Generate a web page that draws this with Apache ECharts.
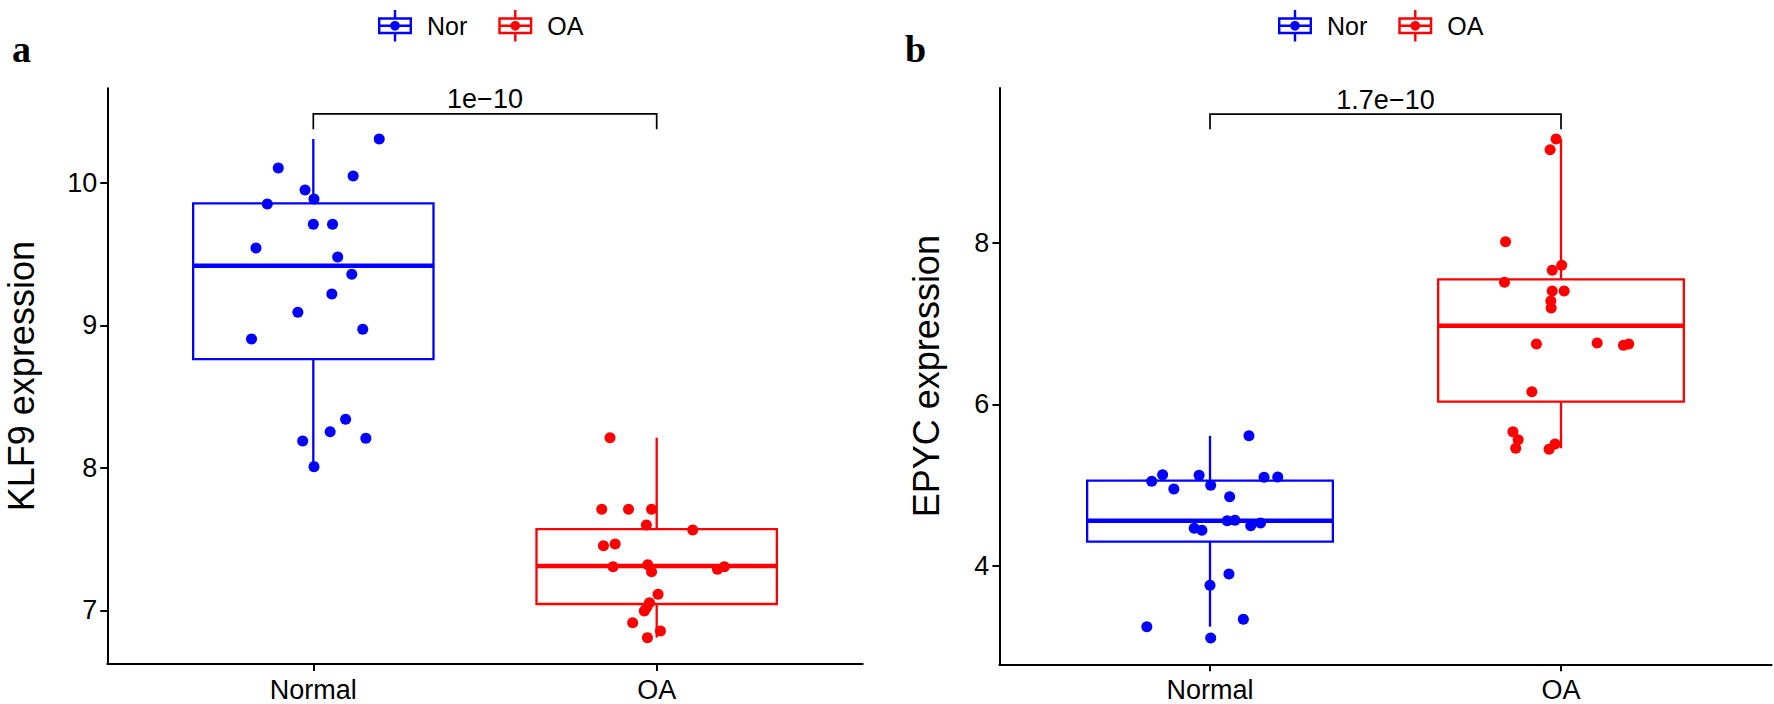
<!DOCTYPE html>
<html>
<head>
<meta charset="utf-8">
<script src="https://cdn.jsdelivr.net/npm/echarts@6/dist/echarts.min.js"></script>
<style>
html,body{margin:0;padding:0;background:#fff;}
#chart{width:1774px;height:704px;}
</style>
</head>
<body>
<div id="chart"></div>
<script>
// ---------------- data ----------------
const categories = ['Normal', 'OA'];
const groupNames = ['Nor', 'OA'];
const panelLetters = ['a', 'b'];
const yTitles = ['KLF9 expression', 'EPYC expression'];
const pLabels = ['1e\u221210', '1.7e\u221210'];
const klf9Ticks = [7, 8, 9, 10];
const epycTicks = [4, 6, 8];
const klf9Range = [6.623, 10.663];
const epycRange = [2.786, 9.91];

const klf9NorY = [10.307,10.104,10.048,9.949,9.886,9.851,9.709,9.709,9.542,9.479,9.358,9.220,9.091,8.972,8.904,8.340,8.253,8.188,8.207,8.008];
const klf9NorJitter = [0.192,-0.102,0.116,-0.024,0.002,-0.134,0,0.056,-0.167,0.071,0.112,0.054,-0.045,0.144,-0.180,0.094,0.049,-0.031,0.153,0.002];
const klf9OAY = [8.211,7.709,7.709,7.709,7.599,7.564,7.453,7.465,7.306,7.320,7.271,7.288,7.306,7.112,7.053,7.021,6.995,6.913,6.855,6.808];
const klf9OAJitter = [-0.136,-0.160,-0.082,-0.015,-0.030,0.105,-0.155,-0.121,-0.127,-0.026,-0.015,0.177,0.197,0.004,-0.021,-0.029,-0.036,-0.070,0.011,-0.027];
const epycNorY = [5.610,5.130,5.048,5.122,4.999,4.953,5.097,5.101,4.858,4.561,4.566,4.499,4.533,4.467,4.442,3.902,3.763,3.251,3.342,3.111];
const epycNorJitter = [0.111,-0.135,-0.166,-0.031,0.002,-0.103,0.154,0.193,0.056,0.049,0.071,0.116,0.144,-0.045,-0.023,0.054,0,-0.180,0.095,0.002];
const epycOAY = [9.279,9.147,8.010,7.718,7.656,7.508,7.400,7.400,7.277,7.190,6.745,6.758,6.729,6.745,6.156,5.661,5.562,5.456,5.444,5.509];
const epycOAJitter = [-0.014,-0.031,-0.158,0.002,-0.025,-0.161,-0.025,0.009,-0.029,-0.028,-0.070,0.103,0.178,0.193,-0.083,-0.137,-0.122,-0.129,-0.034,-0.017];

// box stats: [lower whisker, Q1, median, Q3, upper whisker]
const klf9NorBox = [8.008, 8.763, 9.418, 9.856, 10.307];
const klf9OABox = [6.808, 7.044, 7.311, 7.570, 8.211];
const epycNorBox = [3.251, 4.302, 4.561, 5.056, 5.610];
const epycOABox = [5.456, 6.032, 6.972, 7.545, 9.279];

// significance brackets: [bar level, tip level]
const klf9Bracket = [10.483, 10.375];
const epycBracket = [9.588, 9.399];

// ---------------- styling ----------------
const COLORS = ['#0000FF', '#FF0000'];
const SANS = "'Liberation Sans', Arial, Helvetica, sans-serif";
const SERIF = "'Liberation Serif', 'Times New Roman', serif";
const BOX_HALF = 0.35;

const ICON = 'path://M0 6L28 6L28 20L0 20Z M2 8L2 18L26 18L26 8Z M2 12L26 12L26 14L2 14Z ' +
  'M13 0L15 0L15 6L13 6Z M13 20L15 20L15 26L13 26Z M10 13A4 4 0 1 1 18 13A4 4 0 1 1 10 13Z';

const chart = echarts.init(document.getElementById('chart'), null, {renderer: 'svg'});

const grids = [
  {left: 107.3, top: 88.3, width: 755.4, height: 575.7},
  {left: 999.4, top: 88.0, width: 772.2, height: 576.3}
];

function xAxisFor(i) {
  return {
    gridIndex: i, type: 'value', min: 0.4, max: 2.6,
    axisLine: {show: true, lineStyle: {color: '#000', width: 2}},
    axisTick: {show: true, customValues: [1, 2], length: 7, lineStyle: {color: '#000', width: 2}},
    axisLabel: {show: true, customValues: [1, 2], margin: 12, fontSize: 27, color: '#000', fontFamily: SANS,
      formatter: v => categories[Math.round(v) - 1] || ''},
    splitLine: {show: false}
  };
}
function yAxisFor(i, range, ticks, gap) {
  return {
    gridIndex: i, type: 'value', min: range[0], max: range[1],
    name: yTitles[i], nameLocation: 'middle', nameGap: gap,
    nameTextStyle: {fontSize: 36, color: '#000', fontFamily: SANS},
    axisLine: {show: true, lineStyle: {color: '#000', width: 2}},
    axisTick: {show: true, customValues: ticks, length: 7, lineStyle: {color: '#000', width: 2}},
    axisLabel: {show: true, customValues: ticks, margin: 10, fontSize: 27, color: '#000', fontFamily: SANS},
    splitLine: {show: false}
  };
}

function boxSeries(i, boxes) {
  return {
    type: 'custom', name: 'box' + i, xAxisIndex: i, yAxisIndex: i, z: 2, silent: true,
    data: boxes.map((b, k) => [k + 1].concat(b).concat([k])),
    encode: {x: 0, y: [1, 2, 3, 4, 5]},
    renderItem: function (params, api) {
      const x = api.value(0);
      const lo = api.coord([x, api.value(1)]);
      const q1 = api.coord([x, api.value(2)]);
      const md = api.coord([x, api.value(3)]);
      const q3 = api.coord([x, api.value(4)]);
      const hi = api.coord([x, api.value(5)]);
      const hw = api.size([BOX_HALF, 0])[0];
      const c = COLORS[api.value(6)];
      return {type: 'group', children: [
        {type: 'line', shape: {x1: lo[0], y1: lo[1], x2: q1[0], y2: q1[1]}, style: {stroke: c, lineWidth: 2.3}},
        {type: 'line', shape: {x1: q3[0], y1: q3[1], x2: hi[0], y2: hi[1]}, style: {stroke: c, lineWidth: 2.3}},
        {type: 'rect', shape: {x: q3[0] - hw, y: q3[1], width: 2 * hw, height: q1[1] - q3[1]},
          style: {fill: '#fff', stroke: c, lineWidth: 2.3}},
        {type: 'line', shape: {x1: md[0] - hw, y1: md[1], x2: md[0] + hw, y2: md[1]}, style: {stroke: c, lineWidth: 4.5}}
      ]};
    }
  };
}

function pointSeries(i, g, ys, jit) {
  return {
    type: 'scatter', name: groupNames[g], xAxisIndex: i, yAxisIndex: i, z: 3,
    symbol: 'circle', symbolSize: 11,
    itemStyle: {color: COLORS[g], opacity: 1},
    data: ys.map((y, k) => [g + 1 + jit[k], y])
  };
}

function bracketSeries(i, br) {
  return {
    type: 'custom', name: 'p' + i, xAxisIndex: i, yAxisIndex: i, z: 4, silent: true,
    data: [[1, 2, br[0], br[1]]],
    encode: {x: [0, 1], y: [2, 3]},
    renderItem: function (params, api) {
      const a1 = api.coord([api.value(0), api.value(3)]);
      const a2 = api.coord([api.value(0), api.value(2)]);
      const b2 = api.coord([api.value(1), api.value(2)]);
      const b1 = api.coord([api.value(1), api.value(3)]);
      return {type: 'group', children: [
        {type: 'polyline', shape: {points: [a1, a2, b2, b1]}, style: {stroke: '#000', lineWidth: 1.7, fill: null}},
        {type: 'text', x: (a2[0] + b2[0]) / 2, y: a2[1] - 1,
          style: {text: pLabels[i], fontSize: 27, fontFamily: SANS, fill: '#000', align: 'center', verticalAlign: 'bottom'}}
      ]};
    }
  };
}

function legendFor(left) {
  return {
    left: left, top: 10, padding: 0, orient: 'horizontal', selectedMode: false,
    itemWidth: 34, itemHeight: 32, itemGap: 31,
    data: [{name: 'Nor', icon: ICON}, {name: 'OA', icon: ICON}],
    textStyle: {fontSize: 25, color: '#000', fontFamily: SANS, padding: [0, 0, 0, 10]}
  };
}

const option = {
  animation: false,
  backgroundColor: '#fff',
  grid: grids.map(g => Object.assign({containLabel: false, outerBoundsMode: 'none'}, g)),
  xAxis: [xAxisFor(0), xAxisFor(1)],
  yAxis: [yAxisFor(0, klf9Range, klf9Ticks, 68), yAxisFor(1, epycRange, epycTicks, 55)],
  legend: [legendFor(378), legendFor(1278)],
  graphic: [
    {type: 'text', left: 12, top: 30, style: {text: panelLetters[0], fontSize: 38, fontWeight: 'bold', fontFamily: SERIF, fill: '#000'}},
    {type: 'text', left: 905, top: 30, style: {text: panelLetters[1], fontSize: 38, fontWeight: 'bold', fontFamily: SERIF, fill: '#000'}}
  ],
  series: [
    boxSeries(0, [klf9NorBox, klf9OABox]),
    pointSeries(0, 0, klf9NorY, klf9NorJitter),
    pointSeries(0, 1, klf9OAY, klf9OAJitter),
    bracketSeries(0, klf9Bracket),
    boxSeries(1, [epycNorBox, epycOABox]),
    pointSeries(1, 0, epycNorY, epycNorJitter),
    pointSeries(1, 1, epycOAY, epycOAJitter),
    bracketSeries(1, epycBracket)
  ]
};
chart.setOption(option);
</script>
</body>
</html>
